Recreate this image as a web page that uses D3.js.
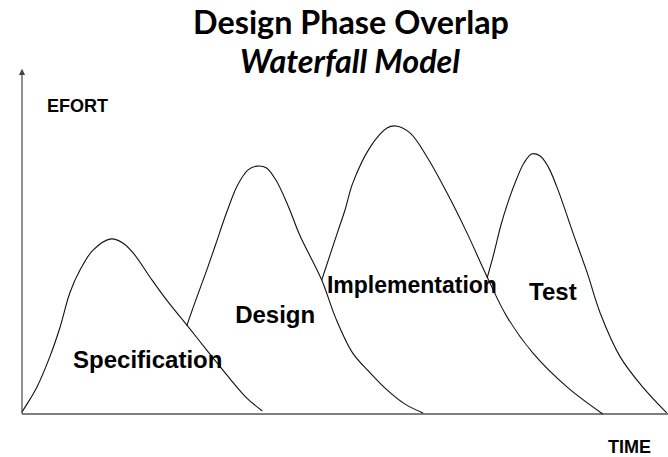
<!DOCTYPE html>
<meta charset="utf-8">

<!-- Load d3.js -->
<script src="https://d3js.org/d3.v7.min.js"></script>

<style>
  body { margin: 0; background: #fff; }
</style>

<!-- Create a div where the graph will take place -->
<div id="my_dataviz"></div>

<script>

    // Phase names and the effort curves (time, effort), both in 0..100 units
    var phases = ["Specification", "Design", "Implementation", "Test"];

    var specification = [
      [0, 0.6], [0.5, 2.1], [2.3, 7.9], [4.3, 16.8], [5.9, 25.6], [7.4, 35.6],
      [9.0, 42.4], [11.0, 48.2], [13.8, 51.5], [15.6, 50.3], [17.2, 47.4],
      [19.8, 40.3], [22.4, 33.5], [25.5, 26.2], [28.6, 18.8], [31.7, 11.5],
      [34.8, 4.7], [37.2, 0.9]
    ];
    var design = [
      [25.5, 25.9], [26.9, 33.5], [28.5, 41.8], [30.0, 50.0], [31.7, 59.4],
      [33.4, 67.4], [35.0, 71.8], [36.4, 72.9], [37.8, 72.4], [39.3, 68.8],
      [41.2, 61.2], [43.0, 52.6], [46.4, 39.4], [48.5, 28.5], [51.2, 17.9],
      [53.9, 12.1], [56.5, 7.1], [59.3, 2.9], [62.1, 0.3]
    ];
    var implementation = [
      [46.4, 39.4], [48.8, 53.2], [50.0, 60.0], [51.2, 67.9], [53.9, 78.5],
      [56.5, 84.1], [57.9, 84.7], [60.1, 82.6], [62.7, 75.6], [65.8, 65.0],
      [68.9, 53.2], [72.0, 40.3], [75.1, 28.5], [79.1, 17.9], [84.4, 7.9],
      [89.9, 0]
    ];
    var test = [
      [72.0, 40.0], [73.1, 47.6], [74.1, 55.3], [75.2, 62.1], [76.5, 68.8],
      [77.7, 73.8], [78.9, 76.5], [80.2, 75.9], [81.4, 72.9], [82.8, 66.8],
      [85.3, 53.2], [87.5, 41.5], [89.5, 29.7], [92.6, 16.8], [96.1, 7.9],
      [99.8, 0.3]
    ];
    var curves = [specification, design, implementation, test];

    // where each phase name sits (time, effort of baseline)
    var labelAt = [[7.9, 13.5], [33.0, 26.8], [47.2, 35.6], [78.5, 33.5]];

    var width = 668, height = 457;

    var svg = d3.select("#my_dataviz")
      .append("svg")
        .attr("width", width)
        .attr("height", height);

    var x = d3.scaleLinear().domain([0, 100]).range([22, 668]);
    var y = d3.scaleLinear().domain([0, 100]).range([414, 74]);

    // Title: both lines share one size, picked so the widths come close to the slide's
    function titleLine(txt, cx, by, italic) {
      return svg.append("text")
          .attr("x", cx)
          .attr("y", by)
          .attr("text-anchor", "middle")
          .style("font-family", "Lato, 'Open Sans', sans-serif")
          .style("font-weight", "bold")
          .style("font-style", italic ? "italic" : "normal")
          .style("font-size", "28px")
          .text(txt);
    }
    var t1 = titleLine("Design Phase Overlap", 351, 34, false);
    var t2 = titleLine("Waterfall Model", 350, 73, true);
    var s1 = 28 * 302 / t1.node().getComputedTextLength();
    var s2 = 28 * 230 / t2.node().getComputedTextLength();
    var ts = (s1 + s2) / 2;
    t1.style("font-size", ts + "px");
    t2.style("font-size", ts + "px");

    // Axes: plain lines, arrow on the effort axis
    svg.append("defs").append("marker")
        .attr("id", "arrow")
        .attr("viewBox", "0 0 10 10")
        .attr("refX", 5).attr("refY", 5)
        .attr("markerWidth", 5).attr("markerHeight", 5)
        .attr("orient", "auto")
      .append("path")
        .attr("d", "M0,0L10,5L0,10z")
        .attr("fill", "#444");

    svg.append("line")
        .attr("x1", x(0)).attr("y1", y(0))
        .attr("x2", x(0)).attr("y2", y(100) - 2)
        .attr("stroke", "#555")
        .attr("stroke-width", 1.3)
        .attr("marker-end", "url(#arrow)");
    svg.append("line")
        .attr("x1", x(0)).attr("y1", y(0))
        .attr("x2", x(100)).attr("y2", y(0))
        .attr("stroke", "#555")
        .attr("stroke-width", 1.3);

    svg.append("text")
        .attr("x", 47).attr("y", 112)
        .style("font-family", "'Liberation Sans', Arial, sans-serif")
        .style("font-weight", "bold")
        .style("font-size", "18px")
        .text("EFORT");
    svg.append("text")
        .attr("x", 608).attr("y", 453)
        .style("font-family", "'Liberation Sans', Arial, sans-serif")
        .style("font-weight", "bold")
        .style("font-size", "18px")
        .text("TIME");

    // the four effort humps
    var line = d3.line()
        .x(function(d) { return x(d[0]) })
        .y(function(d) { return y(d[1]) })
        .curve(d3.curveCatmullRom.alpha(0.5));

    svg.append("g")
      .selectAll("path")
      .data(curves)
      .enter()
      .append("path")
        .attr("d", line)
        .attr("fill", "none")
        .attr("stroke", "#111")
        .attr("stroke-width", 1.1);

    // phase names
    svg.append("g")
      .selectAll("text")
      .data(phases)
      .enter()
      .append("text")
        .attr("x", function(d, i) { return x(labelAt[i][0]) })
        .attr("y", function(d, i) { return y(labelAt[i][1]) })
        .style("font-family", "'Liberation Sans', Arial, sans-serif")
        .style("font-weight", "bold")
        .style("font-size", function(d) { return d == "Implementation" ? "23px" : "24px" })
        .text(function(d) { return d });

</script>
